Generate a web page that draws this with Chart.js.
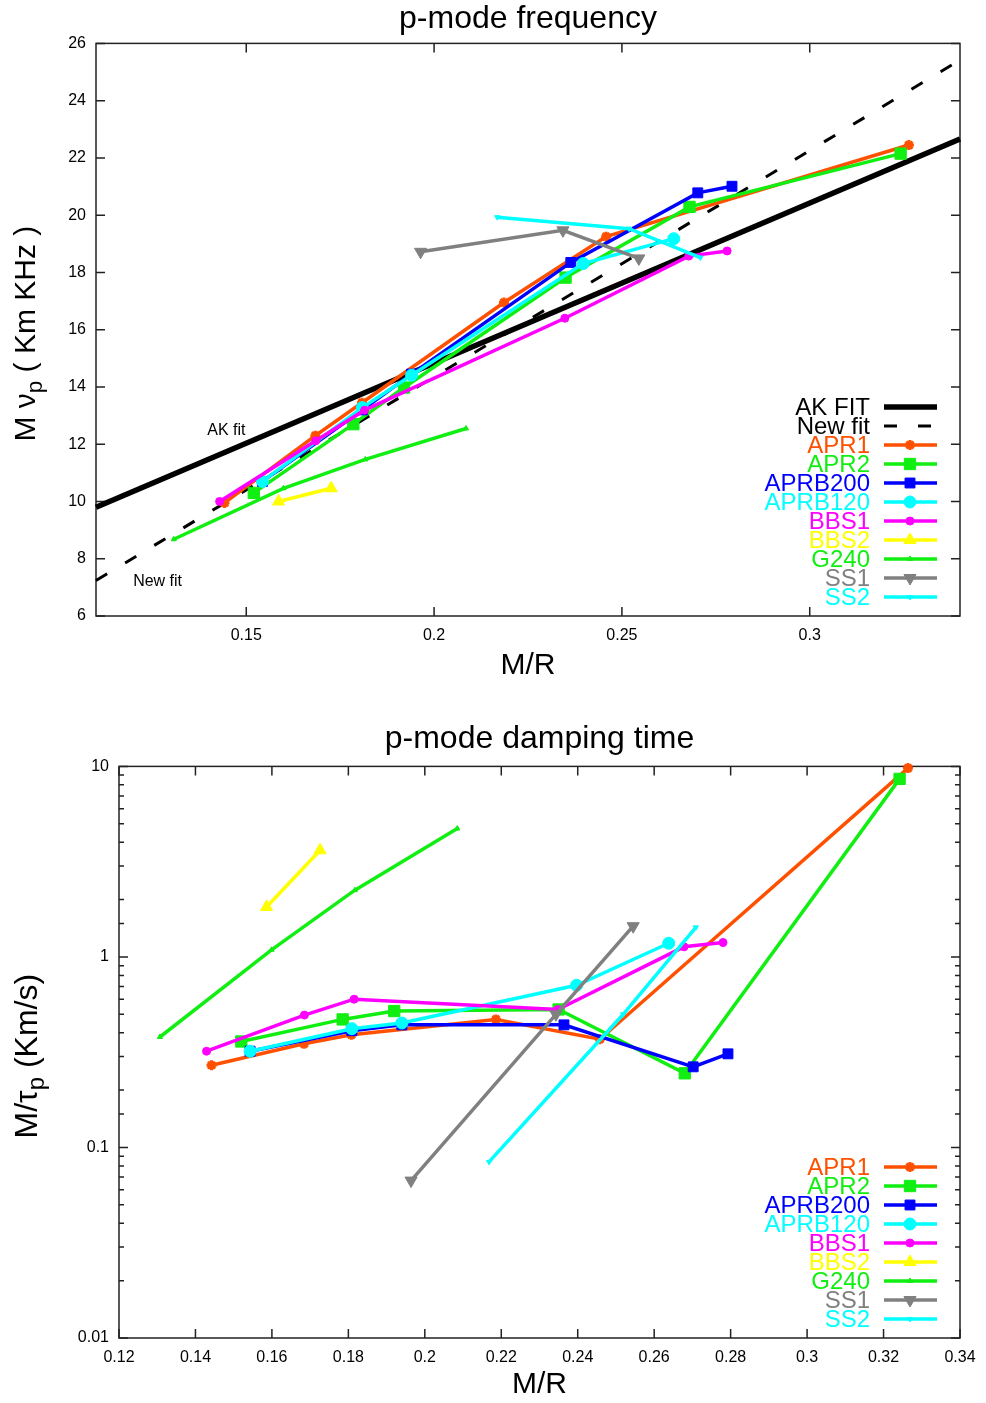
<!DOCTYPE html>
<html>
<head>
<meta charset="utf-8">
<script src="https://cdn.jsdelivr.net/npm/chart.js@4.4.1/dist/chart.umd.min.js"></script>
<style>
  body { margin: 0; background: #fff; width: 986px; height: 1403px; overflow: hidden; position: relative; }
  canvas { position: absolute; left: 0; }
  #freq { top: 0; }
  #damp { top: 700px; }
</style>
</head>
<body>
<canvas id="freq" width="986" height="690"></canvas>
<canvas id="damp" width="986" height="703"></canvas>
<script>
// ---- data ----
const fitX = [0.11, 0.34];
const akFit = [9.8, 22.66];
const newFit = [7.24, 25.42];

const apr1X = [0.1442, 0.1684, 0.1808, 0.2186, 0.2458, 0.3264];
const apr1Freq = [9.95, 12.3, 13.45, 16.95, 19.25, 22.45];
const apr1Damp = [0.27, 0.35, 0.39, 0.47, 0.37, 9.8];

const apr2X = [0.152, 0.1785, 0.192, 0.235, 0.268, 0.3242];
const apr2Freq = [10.3, 12.7, 13.98, 17.82, 20.29, 22.15];
const apr2Damp = [0.36, 0.47, 0.52, 0.53, 0.245, 8.6];

const aprb200X = [0.1543, 0.1809, 0.194, 0.2364, 0.2702, 0.2793];
const aprb200Freq = [10.7, 13.2, 14.45, 18.35, 20.78, 21.01];
const aprb200Damp = [0.32, 0.41, 0.44, 0.44, 0.265, 0.31];

const aprb120X = [0.1543, 0.1809, 0.194, 0.2397, 0.2638];
const aprb120Freq = [10.7, 13.28, 14.41, 18.31, 19.18];
const aprb120Damp = [0.32, 0.42, 0.45, 0.71, 1.18];

const bbs1X = [0.1429, 0.1685, 0.1815, 0.2348, 0.2678, 0.278];
const bbs1Freq = [10.0, 12.12, 13.19, 16.4, 18.57, 18.75];
const bbs1Damp = [0.32, 0.495, 0.6, 0.53, 1.13, 1.19];

const bbs2X = [0.1586, 0.1726];
const bbs2Freq = [10.0, 10.46];
const bbs2Damp = [1.83, 3.63];

const g240X = [0.1307, 0.1599, 0.1817, 0.2085];
const g240Freq = [8.68, 10.46, 11.47, 12.55];
const g240Damp = [0.38, 1.09, 2.24, 4.72];

const ss1X = [0.1964, 0.2343, 0.2545];
const ss1Freq = [18.72, 19.47, 18.49];
const ss1Damp = [0.067, 0.5, 1.45];

const ss2X = [0.2168, 0.2519, 0.2709];
const ss2Freq = [19.93, 19.53, 18.52];
const ss2Damp = [0.084, 0.5, 1.43];

const freqXTicks = [0.15, 0.2, 0.25, 0.3];
const dampYLabels = [10, 1, 0.1, 0.01];

const freqNotes = [
  { text: "AK fit", x: 0.1447, y: 12.46 },
  { text: "New fit", x: 0.1264, y: 7.19 },
];

// ---- styles ----
const FONT = '"Liberation Sans", Arial, sans-serif';
Chart.defaults.font.family = FONT;
Chart.defaults.color = "#000";

const styles = {
  APR1:    { color: "#ff5000", shape: "star",     r: 5, bw: 3 },
  APR2:    { color: "#11ee11", shape: "rect",     r: 8, bw: 1 },
  APRB200: { color: "#0000ff", shape: "rect",     r: 7, bw: 1 },
  APRB120: { color: "#00ffff", shape: "circle",   r: 6, bw: 1 },
  BBS1:    { color: "#ff00ff", shape: "circle",   r: 4, bw: 1 },
  BBS2:    { color: "#ffff00", shape: "triangle", r: 7, bw: 1 },
  G240:    { color: "#11ee11", shape: "triangle", r: 3, bw: 1 },
  SS1:     { color: "#808080", shape: "triangle", r: 7, bw: 1, rot: 180 },
  SS2:     { color: "#00ffff", shape: "triangle", r: 3, bw: 1, rot: 180 },
};

function pts(xs, ys) {
  return xs.map((x, i) => ({ x: x, y: ys[i] }));
}

function series(label, xs, ys, idx) {
  const s = styles[label];
  return {
    label: label,
    data: pts(xs, ys),
    showLine: true,
    borderColor: s.color,
    backgroundColor: s.color,
    borderWidth: 3.5,
    pointStyle: s.shape,
    pointRadius: s.r,
    pointHoverRadius: s.r,
    pointRotation: s.rot || 0,
    pointBorderWidth: s.bw,
    pointBorderColor: s.color,
    pointBackgroundColor: s.color,
    clip: false,
    order: 9 - idx, // first series drawn underneath
  };
}

/* ---------- PLUGINS ---------- */

// box with inward ticks on all four sides (gnuplot style)
const frame = {
  id: "frame",
  beforeDatasetsDraw(chart) {
    const { ctx, chartArea: a, scales } = chart;
    ctx.save();
    ctx.strokeStyle = "#222";
    ctx.lineWidth = 1.5;
    ctx.beginPath();
    scales.x.ticks.forEach((t) => {
      const px = scales.x.getPixelForValue(t.value);
      ctx.moveTo(px, a.bottom); ctx.lineTo(px, a.bottom - 9);
      ctx.moveTo(px, a.top); ctx.lineTo(px, a.top + 9);
    });
    const isLog = scales.y.type === "logarithmic";
    scales.y.ticks.forEach((t) => {
      const py = scales.y.getPixelForValue(t.value);
      const len = isLog && !isDecade(t.value) ? 5 : 9;
      ctx.moveTo(a.left, py); ctx.lineTo(a.left + len, py);
      ctx.moveTo(a.right, py); ctx.lineTo(a.right - len, py);
    });
    ctx.stroke();
    ctx.strokeRect(a.left, a.top, a.width, a.height);
    ctx.restore();
  },
};

function isDecade(v) {
  const l = Math.log10(v);
  return Math.abs(l - Math.round(l)) < 1e-6;
}

// legend drawn inside the plot, bottom right
const insideLegend = {
  id: "insideLegend",
  afterDraw(chart) {
    const { ctx, chartArea: a } = chart;
    const sets = chart.data.datasets;
    const n = sets.length;
    ctx.save();
    sets.forEach((d, i) => {
      const y = a.bottom - 19 * (n - i);
      ctx.font = "24px " + FONT;
      ctx.textAlign = "right";
      ctx.textBaseline = "middle";
      ctx.fillStyle = d.borderColor;
      ctx.fillText(d.label, a.right - 90, y + 1);

      ctx.strokeStyle = d.borderColor;
      ctx.lineWidth = d.borderWidth;
      ctx.setLineDash(d.borderDash || []);
      ctx.beginPath();
      ctx.moveTo(a.right - 76, y);
      ctx.lineTo(a.right - 23, y);
      ctx.stroke();
      ctx.setLineDash([]);

      if (d.pointRadius > 0 && Chart.helpers && Chart.helpers.drawPoint) {
        ctx.fillStyle = d.borderColor;
        ctx.lineWidth = d.pointBorderWidth;
        Chart.helpers.drawPoint(ctx, {
          pointStyle: d.pointStyle,
          radius: d.pointRadius,
          rotation: d.pointRotation,
          borderWidth: d.pointBorderWidth,
        }, a.right - 50, y);
      }
    });
    ctx.restore();
  },
};

// rotated y-axis title with a subscript part
function yTitle(parts, cx, size) {
  return {
    id: "yTitle",
    afterDraw(chart) {
      const { ctx, chartArea: a } = chart;
      const cy = (a.top + a.bottom) / 2 + 4;
      ctx.save();
      ctx.translate(cx, cy);
      ctx.rotate(-Math.PI / 2);
      ctx.fillStyle = "#000";
      ctx.textBaseline = "middle";
      ctx.textAlign = "left";
      const widths = parts.map((p) => {
        ctx.font = (p.sub ? size * 0.75 : size) + "px " + FONT;
        return ctx.measureText(p.text).width;
      });
      let x = -widths.reduce((s, w) => s + w, 0) / 2;
      parts.forEach((p, i) => {
        ctx.font = (p.sub ? size * 0.75 : size) + "px " + FONT;
        ctx.fillText(p.text, x, p.sub ? size * 0.3 : 0);
        x += widths[i];
      });
      ctx.restore();
    },
  };
}

// small text notes at data coordinates
const notes = {
  id: "notes",
  afterDraw(chart) {
    const list = chart.options.plugins.notes.list || [];
    const { ctx, scales } = chart;
    ctx.save();
    ctx.font = "16px " + FONT;
    ctx.fillStyle = "#000";
    ctx.textAlign = "center";
    ctx.textBaseline = "middle";
    list.forEach((n) => {
      ctx.fillText(n.text, scales.x.getPixelForValue(n.x), scales.y.getPixelForValue(n.y));
    });
    ctx.restore();
  },
};

/* ---------- TOP: frequency ---------- */

const freqSets = [
  {
    label: "AK FIT",
    data: pts(fitX, akFit),
    showLine: true,
    borderColor: "#000",
    borderWidth: 5.5,
    pointRadius: 0,
    clip: false,
    order: 20,
  },
  {
    label: "New fit",
    data: pts(fitX, newFit),
    showLine: true,
    borderColor: "#000",
    borderWidth: 3,
    borderDash: [13, 21],
    pointRadius: 0,
    clip: false,
    order: 21,
  },
  series("APR1", apr1X, apr1Freq, 0),
  series("APR2", apr2X, apr2Freq, 1),
  series("APRB200", aprb200X, aprb200Freq, 2),
  series("APRB120", aprb120X, aprb120Freq, 3),
  series("BBS1", bbs1X, bbs1Freq, 4),
  series("BBS2", bbs2X, bbs2Freq, 5),
  series("G240", g240X, g240Freq, 6),
  series("SS1", ss1X, ss1Freq, 7),
  series("SS2", ss2X, ss2Freq, 8),
];

new Chart(document.getElementById("freq"), {
  type: "scatter",
  data: { datasets: freqSets },
  options: {
    responsive: false,
    animation: false,
    events: [],
    layout: { padding: { left: 0, right: 26, top: 0, bottom: 0 } },
    plugins: {
      legend: { display: false },
      tooltip: { enabled: false },
      title: {
        display: true,
        fullSize: false,
        text: "p-mode frequency",
        font: { size: 32, weight: "normal" },
        color: "#000",
        padding: { top: 0, bottom: 5 },
      },
      notes: { list: freqNotes },
    },
    scales: {
      x: {
        type: "linear",
        min: 0.11,
        max: 0.34,
        grid: { display: false, drawTicks: false },
        border: { display: false },
        afterBuildTicks: (s) => { s.ticks = freqXTicks.map((v) => ({ value: v })); },
        afterFit: (s) => { s.height = 74; },
        ticks: { font: { size: 16 }, padding: 10, autoSkip: false, maxRotation: 0, callback: (v) => String(v) },
        title: { display: true, text: "M/R", font: { size: 30 }, padding: { top: 0, bottom: 6 } },
      },
      y: {
        min: 6,
        max: 26,
        grid: { display: false, drawTicks: false },
        border: { display: false },
        afterFit: (s) => { s.width = 96; },
        ticks: { stepSize: 2, font: { size: 16 }, padding: 10 },
      },
    },
  },
  plugins: [frame, insideLegend, notes,
    yTitle([{ text: "M \u03bd" }, { text: "p", sub: true }, { text: " ( Km KHz )" }], 27, 30)],
});

/* ---------- BOTTOM: damping time ---------- */

const dampSets = [
  series("APR1", apr1X, apr1Damp, 0),
  series("APR2", apr2X, apr2Damp, 1),
  series("APRB200", aprb200X, aprb200Damp, 2),
  series("APRB120", aprb120X, aprb120Damp, 3),
  series("BBS1", bbs1X, bbs1Damp, 4),
  series("BBS2", bbs2X, bbs2Damp, 5),
  series("G240", g240X, g240Damp, 6),
  series("SS1", ss1X, ss1Damp, 7),
  series("SS2", ss2X, ss2Damp, 8),
];

new Chart(document.getElementById("damp"), {
  type: "scatter",
  data: { datasets: dampSets },
  options: {
    responsive: false,
    animation: false,
    events: [],
    layout: { padding: { left: 0, right: 26, top: 0, bottom: 0 } },
    plugins: {
      legend: { display: false },
      tooltip: { enabled: false },
      title: {
        display: true,
        fullSize: false,
        text: "p-mode damping time",
        font: { size: 32, weight: "normal" },
        color: "#000",
        padding: { top: 20, bottom: 8 },
      },
      notes: { list: [] },
    },
    scales: {
      x: {
        type: "linear",
        min: 0.12,
        max: 0.34,
        grid: { display: false, drawTicks: false },
        border: { display: false },
        afterFit: (s) => { s.height = 65; },
        ticks: { stepSize: 0.02, font: { size: 16 }, padding: 10, autoSkip: false, maxRotation: 0,
          callback: (v) => String(+Number(v).toFixed(2)) },
        title: { display: true, text: "M/R", font: { size: 30 }, padding: { top: 0, bottom: 0 } },
      },
      y: {
        type: "logarithmic",
        min: 0.01,
        max: 10,
        grid: { display: false, drawTicks: false },
        border: { display: false },
        afterFit: (s) => { s.width = 119; },
        ticks: {
          font: { size: 16 },
          padding: 10,
          autoSkip: false,
          callback: (v) => {
            const hit = dampYLabels.find((l) => Math.abs(l - v) < l * 1e-6);
            return hit !== undefined ? String(hit) : "";
          },
        },
      },
    },
  },
  plugins: [frame, insideLegend, notes,
    yTitle([{ text: "M/\u03c4" }, { text: "p", sub: true }, { text: " (Km/s)" }], 28, 32)],
});
</script>
</body>
</html>
